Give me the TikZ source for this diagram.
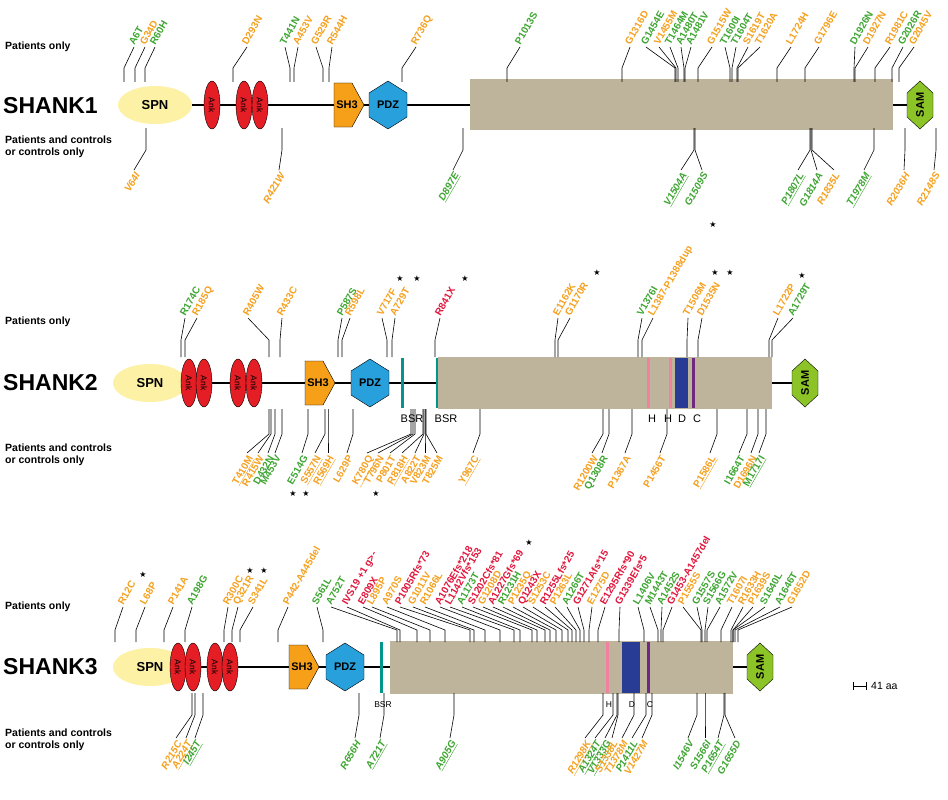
\documentclass[tikz,border=0pt]{standalone}
\usepackage{fontspec}
\setmainfont{Liberation Sans}
\newfontfamily\djv{DejaVu Sans}
\definecolor{gC}{RGB}{62,165,50}
\definecolor{oC}{RGB}{245,160,30}
\definecolor{rC}{RGB}{226,22,60}
\definecolor{spnC}{RGB}{253,241,165}
\definecolor{ankC}{RGB}{228,30,36}
\definecolor{shC}{RGB}{246,160,26}
\definecolor{pdzC}{RGB}{40,160,220}
\definecolor{samC}{RGB}{140,196,40}
\definecolor{boxC}{RGB}{190,180,156}
\definecolor{tealC}{RGB}{0,150,140}
\definecolor{pinkC}{RGB}{240,130,160}
\definecolor{dbC}{RGB}{40,60,150}
\definecolor{purC}{RGB}{110,40,130}
\tikzset{lead/.style={line width=0.6pt},
 lab/.style={font=\fontsize{10}{10}\selectfont\bfseries, inner sep=0.3pt},
 rowcap/.style={font=\fontsize{10.5}{12.5}\selectfont\bfseries, anchor=west, align=left, inner sep=0},
 pname/.style={font=\fontsize{23}{23}\selectfont\bfseries, anchor=west, inner sep=0},
 dom/.style={font=\fontsize{11}{11}\selectfont\bfseries, inner sep=0},
 star/.style={font=\djv\fontsize{8}{8}\selectfont, inner sep=0}}
\newcommand\mt[4]{\draw[lead] (#1,\yA) -- (#1,\yB) -- (#2,\yC);
 \node[lab,text=#3,anchor=base west,rotate=60] at (#2,\yC-1) {#4};}
\newcommand\mb[4]{\draw[lead] (#1,\yA) -- (#1,\yB) -- (#2,\yC);
 \node[lab,text=#3,anchor=north east,rotate=60] at (#2,\yC+1) {\mbstyle #4};}
\newcommand\stt[2]{\node[star] at (#1,#2) {★};}
\newcommand\ank[2]{\draw[fill=ankC] (#1,#2) ellipse [x radius=8, y radius=24];
 \node[font=\fontsize{8.5}{8.5}\selectfont,rotate=-90,inner sep=0] at (#1,#2) {Ank};}
\newcommand\shthree[2]{\draw[fill=shC] (#1-15,#2-22) -- (#1+3,#2-22) -- (#1+15,#2) -- (#1+3,#2+22) -- (#1-15,#2+22) -- cycle;
 \node[dom] at (#1-2,#2) {SH3};}
\newcommand\pdz[2]{\draw[fill=pdzC] (#1,#2-24) -- (#1+19,#2-12) -- (#1+19,#2+12) -- (#1,#2+24) -- (#1-19,#2+12) -- (#1-19,#2-12) -- cycle;
 \node[dom] at (#1,#2) {PDZ};}
\newcommand\sam[2]{\draw[fill=samC] (#1,#2-24) -- (#1+13,#2-12) -- (#1+13,#2+12) -- (#1,#2+24) -- (#1-13,#2+12) -- (#1-13,#2-12) -- cycle;
 \node[dom,rotate=90] at (#1,#2) {SAM};}
\newcommand\spn[2]{\fill[spnC] (#1,#2) ellipse [x radius=37, y radius=19];
 \node[dom,font=\fontsize{13}{13}\selectfont\bfseries] at (#1,#2) {SPN};}
\begin{document}
\begin{tikzpicture}[x=1pt,y=-1pt]
\useasboundingbox (0,0) rectangle (948,800);
\fill[white] (0,0) rectangle (948,800);
% ================= SHANK1 =================
\node[rowcap] at (5,47) {Patients only};
\node[rowcap] at (5,147) {Patients and controls\\or controls only};
\node[pname] at (3,106) {SHANK1};
\draw[line width=1.8pt] (150,105) -- (915,105);
\fill[boxC] (470,79) rectangle (893,130);
\spn{155}{105}
\ank{212}{105}\ank{244}{105}\ank{260}{105}
\shthree{349}{105}
\pdz{388}{105}
\sam{920}{105}
\def\yA{82}\def\yB{68}\def\yC{47}
\mt{124}{134}{gC}{A6T}\mt{135}{145}{oC}{G34D}\mt{145}{155}{gC}{R60H}
\mt{233}{247}{oC}{D293N}\mt{290}{285}{gC}{T441N}\mt{294}{298}{oC}{A453V}
\mt{323}{316}{oC}{G529R}\mt{329}{332}{oC}{R544H}\mt{402}{416}{oC}{R736Q}
\mt{507}{520}{gC}{P1013S}\mt{622}{630}{oC}{G1316D}\mt{675}{646}{gC}{G1454E}
\mt{676}{659}{oC}{V1455M}\mt{678}{670}{gC}{T1464M}\mt{684}{681}{gC}{A1480T}
\mt{685}{691}{gC}{A1481V}\mt{698}{712}{oC}{G1515W}\mt{730}{725}{gC}{T1600I}
\mt{732}{736}{gC}{T1604T}\mt{737}{748}{oC}{S1619T}\mt{738}{760}{oC}{T1620A}
\mt{777}{791}{oC}{L1724H}\mt{805}{819}{oC}{G1796E}\mt{854}{855}{gC}{D1926N}
\mt{855}{868}{oC}{D1927N}\mt{875}{890}{oC}{R1981C}\mt{892}{903}{gC}{G2026R}
\mt{899}{914}{oC}{G2045V}
\def\yA{128}\def\yB{150}\def\yC{170}\def\mbstyle{\itshape}
\mb{146}{134}{oC}{V64I}\mb{282}{279}{oC}{R421W}\mb{463}{453}{gC}{\underline{D897E}}
\mb{694}{681}{gC}{\underline{V1504A}}\mb{695}{702}{gC}{G1509S}
\mb{810}{798}{gC}{\underline{P1807L}}\mb{811}{817}{gC}{G1814A}\mb{812}{834}{oC}{R1835L}
\mb{874}{864}{gC}{\underline{T1978M}}\mb{905}{904}{oC}{R2036H}\mb{936}{934}{oC}{R2148S}
% ================= SHANK2 =================
\node[rowcap] at (5,322) {Patients only};
\node[rowcap] at (5,455) {Patients and controls\\or controls only};
\node[pname] at (3,383) {SHANK2};
\draw[line width=1.8pt] (150,383) -- (800,383);
\fill[boxC] (438,357) rectangle (772,409);
\spn{150}{383}
\ank{189}{383}\ank{204}{383}\ank{238}{383}\ank{254}{383}
\shthree{320}{383}
\pdz{370}{383}
\fill[tealC] (401,358) rectangle (404,408);
\fill[tealC] (436,358) rectangle (438,408);
\fill[pinkC] (647,358) rectangle (650,408);
\fill[pinkC] (669,358) rectangle (672,408);
\fill[dbC] (675,358) rectangle (688,408);
\fill[purC] (692,358) rectangle (695,408);
\sam{805}{383}
\foreach \x/\t in {412/BSR,446/BSR,652/H,668/H,682/D,697/C}
 \node[font=\fontsize{11}{11}\selectfont,inner sep=0] at (\x,419) {\t};
\def\yA{357}\def\yB{340}\def\yC{318}
\mt{181}{185}{gC}{R174C}\mt{185}{197}{oC}{R185Q}\mt{269}{248}{oC}{R405W}
\mt{280}{282}{oC}{R433C}\mt{338}{342}{gC}{P587S}\mt{342}{350}{oC}{R598L}
\mt{387}{382}{oC}{V717F}\mt{392}{395}{oC}{A729T}\mt{435}{440}{rC}{R841X}
\mt{555}{558}{oC}{E1162K}\mt{558}{570}{oC}{G1170R}\mt{638}{642}{gC}{V1376I}
\mt{642}{653}{oC}{L1387-P1388dup}\mt{687}{688}{oC}{T1506M}\mt{698}{702}{oC}{D1535N}
\mt{769}{778}{oC}{L1722P}\mt{772}{793}{gC}{A1729T}
\stt{400}{279}\stt{417}{279}\stt{465}{279}\stt{597}{273}\stt{713}{225}
\stt{715}{273}\stt{730}{273}\stt{802}{276}
\def\yA{409}\def\yB{434}\def\yC{453}\def\mbstyle{}
\mb{269}{247}{oC}{\underline{T410M}}\mb{271}{258}{oC}{R415W}\mb{275}{268}{gC}{D432N}
\mb{282}{275}{gC}{M453V}\mb{308}{302}{gC}{E514G}\mb{325}{315}{oC}{\underline{S557N}}
\mb{328}{328}{oC}{\underline{R569H}}\mb{353}{347}{oC}{L629P}\mb{411}{367}{oC}{\underline{K780Q}}
\mb{413}{378}{oC}{T796N}\mb{415}{390}{oC}{P801T}\mb{423}{402}{oC}{\underline{R818H}}
\mb{424}{415}{oC}{A822T}\mb{425}{425}{oC}{V823M}\mb{426}{437}{oC}{T825M}
\mb{480}{473}{oC}{\underline{Y967C}}\mb{603}{592}{oC}{R1200W}\mb{609}{602}{gC}{Q1308R}
\mb{632}{625}{oC}{P1367A}\mb{667}{660}{oC}{P1456T}\mb{717}{710}{oC}{\underline{P1586L}}
\mb{747}{739}{gC}{I1664T}\mb{758}{751}{oC}{D1696N}\mb{766}{759}{gC}{\underline{M1717I}}
\stt{293}{494}\stt{306}{494}\stt{376}{494}
% ================= SHANK3 =================
\node[rowcap] at (5,607) {Patients only};
\node[rowcap] at (5,740) {Patients and controls\\or controls only};
\node[pname] at (3,667) {SHANK3};
\draw[line width=1.8pt] (150,667) -- (760,667);
\fill[boxC] (390,641) rectangle (733,694);
\spn{150}{667}
\ank{178}{667}\ank{193}{667}\ank{215}{667}\ank{230}{667}
\shthree{304}{667}
\pdz{345}{667}
\fill[tealC] (380,642) rectangle (383,693);
\fill[pinkC] (606,642) rectangle (609,693);
\fill[dbC] (622,642) rectangle (640,693);
\fill[purC] (647,642) rectangle (650,693);
\sam{760}{667}
\foreach \x/\t in {383/BSR,609/H,632/D,650/C}
 \node[font=\fontsize{8.5}{8.5}\selectfont,inner sep=0] at (\x,705) {\t};
\draw[line width=0.9pt] (853,686) -- (866,686) (853,682) -- (853,690) (866,682) -- (866,690);
\node[font=\fontsize{10.5}{10.5}\selectfont,anchor=west,inner sep=0] at (871,686) {41 aa};
\def\yA{642}\def\yB{630}\def\yC{607}
\mt{115}{123}{oC}{R12C}\mt{136}{145}{oC}{L68P}\mt{164}{173}{oC}{P141A}
\mt{185}{192}{gC}{A198G}\mt{224}{228}{oC}{R300C}\mt{232}{238}{oC}{Q321R}
\mt{240}{253}{oC}{S341L}\mt{278}{288}{oC}{P442-A445del}\mt{323}{317}{gC}{S561L}
\mt{397}{331}{gC}{A752T}\mt{400}{347}{rC}{IVS19 +1 g>-}\mt{417}{363}{rC}{E809X}
\mt{430}{372}{oC}{L895P}\mt{445}{387}{oC}{A970S}\mt{470}{400}{rC}{P1005Rfs*73}
\mt{474}{413}{oC}{G1011V}\mt{485}{425}{oC}{R1066L}\mt{500}{440}{rC}{A1076Efs*218}
\mt{514}{450}{rC}{L1142Vfs*153}\mt{520}{462}{gC}{A1173T}\mt{532}{473}{rC}{S1202Cfs*81}
\mt{537}{483}{oC}{G1208D}\mt{545}{493}{rC}{A1227Gfs*69}\mt{550}{503}{gC}{R1231H}
\mt{556}{513}{oC}{P1235Q}\mt{562}{523}{rC}{Q1243X}\mt{568}{533}{oC}{S1253C}
\mt{572}{545}{rC}{R1255Lfs*25}\mt{576}{555}{oC}{P1263L}\mt{580}{567}{gC}{A1266T}
\mt{584}{578}{rC}{G1271Afs*15}\mt{589}{592}{oC}{E1275D}\mt{598}{605}{rC}{E1295Rfs*90}
\mt{619}{620}{rC}{G1339Efs*5}\mt{644}{638}{gC}{L1406V}\mt{658}{650}{gC}{M1443T}
\mt{661}{662}{gC}{A1452S}\mt{663}{672}{rC}{G1453-A1457del}\mt{701}{683}{oC}{P1555S}
\mt{702}{697}{gC}{G1557S}\mt{705}{708}{gC}{S1566G}\mt{707}{720}{gC}{A1572V}
\mt{721}{732}{oC}{T1607I}\mt{731}{743}{oC}{R1633H}\mt{733}{753}{oC}{P1639S}
\mt{733}{765}{gC}{S1640L}\mt{735}{780}{gC}{A1646T}\mt{738}{792}{oC}{G1652D}
\stt{143}{575}\stt{250}{571}\stt{264}{571}\stt{529}{543}
\def\yA{693}\def\yB{715}\def\yC{738}\def\mbstyle{\itshape}
\mb{192}{176}{oC}{R215C}\mb{195}{186}{oC}{\underline{A224T}}\mb{203}{195}{gC}{\underline{I245T}}
\mb{359}{355}{gC}{R656H}\mb{384}{380}{gC}{\underline{A721T}}\mb{454}{450}{gC}{\underline{A905G}}
\mb{603}{585}{oC}{\underline{R1298K}}\mb{613}{595}{gC}{\underline{A1324T}}\mb{617}{605}{gC}{\underline{V1333G}}
\mb{618}{612}{oC}{S1338L}\mb{634}{622}{oC}{T1378M}\mb{646}{632}{gC}{P1411L}
\mb{652}{642}{oC}{V1427M}\mb{697}{688}{gC}{I1546V}\mb{705}{705}{gC}{S1566I}
\mb{724}{718}{gC}{\underline{P1654T}}\mb{725}{735}{gC}{G1655D}
\end{tikzpicture}
\end{document}
